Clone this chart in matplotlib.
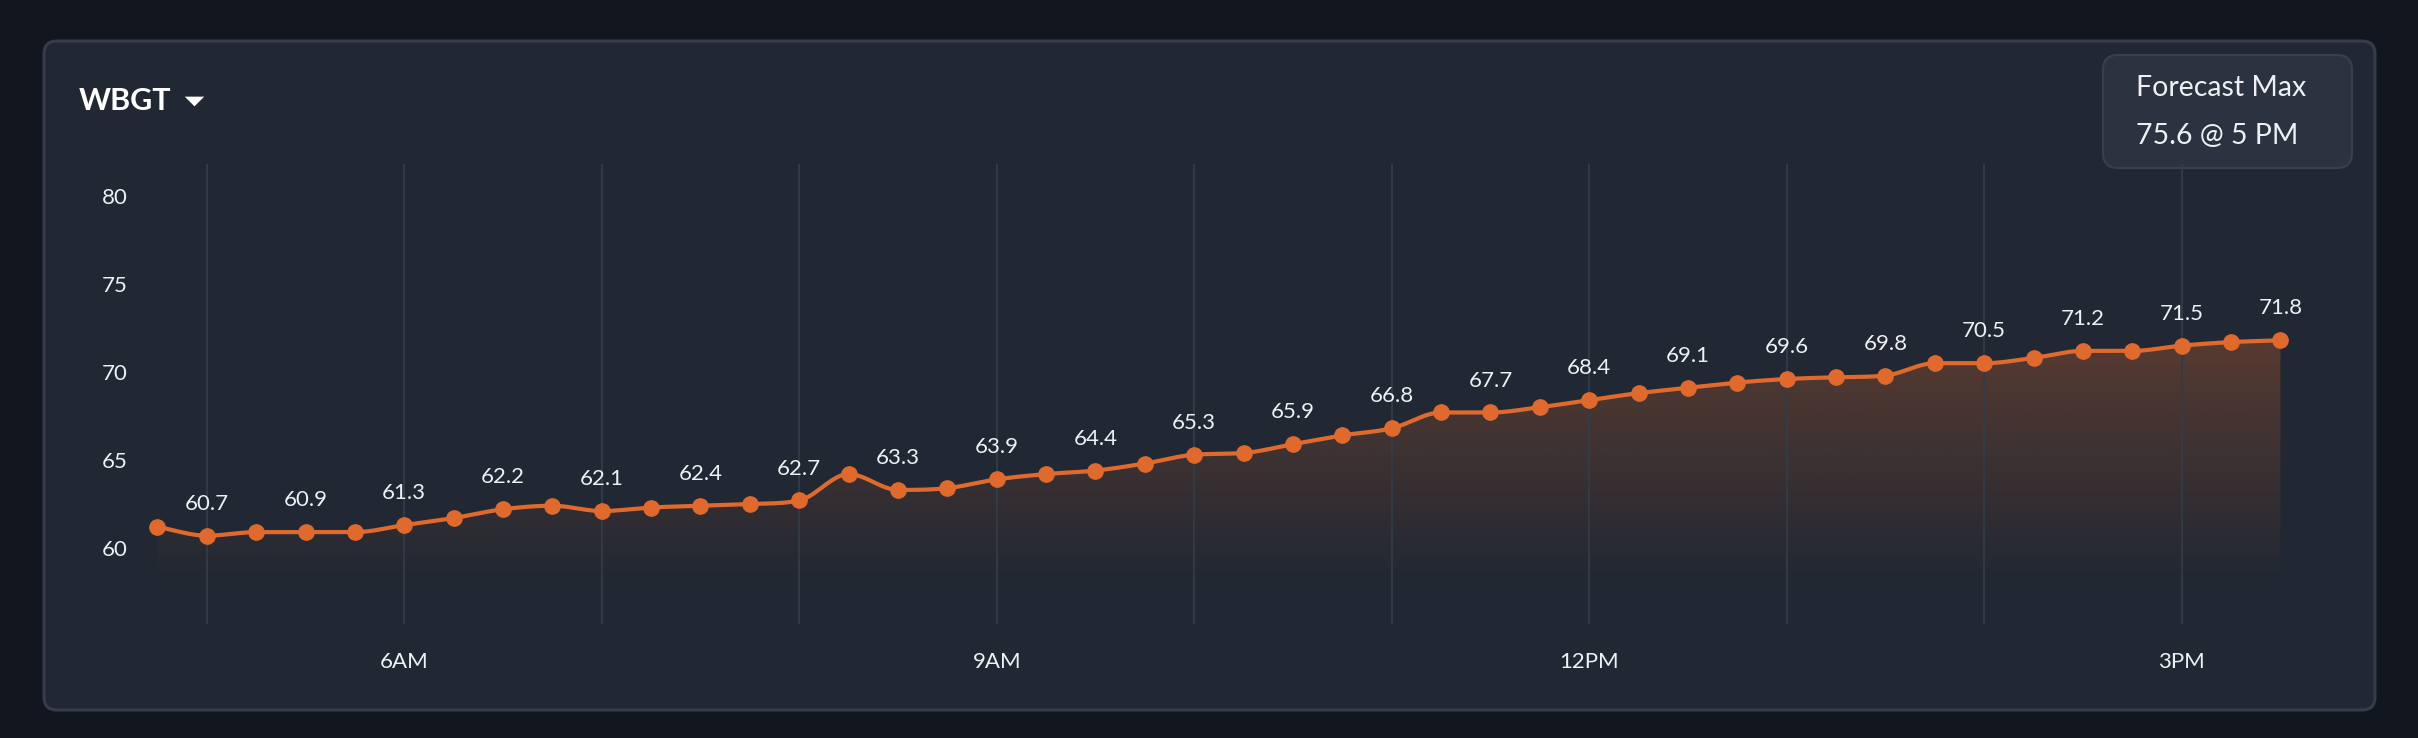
# WBGT forecast card, dark dashboard style
import numpy as np
import pandas as pd
import matplotlib
matplotlib.use("Agg")
import matplotlib.pyplot as plt
from matplotlib.patches import FancyBboxPatch

# readings every 15 min starting 4:45 AM
wbgt = [61.2, 60.7, 60.9, 60.9, 60.9, 61.3, 61.7, 62.2, 62.4, 62.1,
        62.3, 62.4, 62.5, 62.7, 64.2, 63.3, 63.4, 63.9, 64.2, 64.4,
        64.8, 65.3, 65.4, 65.9, 66.4, 66.8, 67.7, 67.7, 68.0, 68.4,
        68.8, 69.1, 69.4, 69.6, 69.7, 69.8, 70.5, 70.5, 70.8, 71.2,
        71.2, 71.5, 71.7, 71.8]
start_time = "04:45"
y_ticks = [60, 65, 70, 75, 80]
x_label_hours = [6, 9, 12, 15]
x_labels = ["6AM", "9AM", "12PM", "3PM"]
forecast_max = "75.6 @ 5 PM"

BG = "#12161e"
CARD = "#212833"
CARD_EDGE = "#343d49"
GRID = "#323c47"
ORANGE = "#e06a2d"
TEXT = "#eef0f3"
W, H = 2418, 738


def monotone_curve(x, y, n=24):
    """Monotone cubic path through the points (like chart.js 'monotone')."""
    x = np.asarray(x, float)
    y = np.asarray(y, float)
    h = np.diff(x)
    d = np.diff(y) / h
    m = np.zeros_like(y)
    m[0], m[-1] = d[0], d[-1]
    for i in range(1, len(y) - 1):
        if d[i - 1] * d[i] > 0:
            m[i] = (d[i - 1] + d[i]) / 2
    for i in range(len(d)):
        if d[i] == 0:
            m[i] = m[i + 1] = 0
            continue
        a, b = m[i] / d[i], m[i + 1] / d[i]
        s = a * a + b * b
        if s > 9:
            t = 3 / np.sqrt(s)
            m[i], m[i + 1] = t * a * d[i], t * b * d[i]
    xs, ys = [], []
    for i in range(len(h)):
        t = np.linspace(0, 1, n, endpoint=False)
        h00 = 2 * t**3 - 3 * t**2 + 1
        h10 = t**3 - 2 * t**2 + t
        h01 = -2 * t**3 + 3 * t**2
        h11 = t**3 - t**2
        xs.append(x[i] + t * h[i])
        ys.append(h00 * y[i] + h10 * h[i] * m[i] + h01 * y[i + 1] + h11 * h[i] * m[i + 1])
    xs.append([x[-1]])
    ys.append([y[-1]])
    return np.concatenate(xs), np.concatenate(ys)


times = pd.date_range("2024-01-01 " + start_time, periods=len(wbgt), freq="15min")
hours = times.hour + times.minute / 60.0
grid_hours = hours[times.minute == 0]

plt.rcParams["font.family"] = ["Lato", "DejaVu Sans"]

fig = plt.figure(figsize=(W / 100, H / 100), dpi=100, facecolor=BG)

# background layer in pixel coordinates
bg = fig.add_axes([0, 0, 1, 1], zorder=0)
bg.set_xlim(0, W)
bg.set_ylim(H, 0)
bg.axis("off")
bg.add_patch(FancyBboxPatch((44, 41), 2331, 669, boxstyle="round,pad=0,rounding_size=13",
                            facecolor=CARD, edgecolor=CARD_EDGE, linewidth=2.2))
bg.add_patch(FancyBboxPatch((2103, 55), 249, 113, boxstyle="round,pad=0,rounding_size=15",
                            facecolor="#2a333f", edgecolor="#37414e", linewidth=1.5, zorder=5))
bg.text(79, 101, "WBGT", color="white", fontsize=22, fontweight="bold", va="center", ha="left")
# dropdown caret
bg.plot([194], [101], marker=[(-1, 0.5), (1, 0.5), (0, -0.5)], color="white",
        markersize=14, markeredgewidth=0)
bg.text(2136, 88, "Forecast Max", color=TEXT, fontsize=20.5, va="center", ha="left", zorder=6)
bg.text(2136, 136, forecast_max, color=TEXT, fontsize=20.5, va="center", ha="left", zorder=6)

# chart
ax = fig.add_axes([140 / W, 1 - 624 / H, 2160 / W, 460 / H], zorder=1)
ax.set_facecolor("none")
ax.set_xlim(4.662, 15.599)
ax.set_ylim(55.68, 81.82)
for s in ax.spines.values():
    s.set_visible(False)

ax.set_xticks(list(grid_hours), minor=True)
ax.set_xticks(x_label_hours)
ax.set_xticklabels(x_labels)
ax.set_yticks(y_ticks)
ax.grid(True, which="both", axis="x", color=GRID, linewidth=1.3)
ax.tick_params(which="both", length=0)
ax.tick_params(axis="x", pad=20, labelsize=16, labelcolor=TEXT)
ax.tick_params(axis="y", pad=9, labelsize=16, labelcolor=TEXT)

cx, cy = monotone_curve(hours, wbgt)

# gradient fill under the curve
poly = ax.fill_between(cx, cy, 55.68, color="none", linewidth=0)
grad = np.zeros((200, 1, 4))
rgb = matplotlib.colors.to_rgb(ORANGE)
grad[..., 0], grad[..., 1], grad[..., 2] = rgb
grad[:, 0, 3] = np.linspace(0.3, 0.0, 200)
img = ax.imshow(grad, aspect="auto", extent=[hours[0], hours[-1], 58.0, 72.5],
                origin="upper", zorder=1)
img.set_clip_path(poly.get_paths()[0], transform=ax.transData)

ax.plot(cx, cy, color=ORANGE, linewidth=3, zorder=3, solid_capstyle="round")
ax.plot(hours, wbgt, "o", color=ORANGE, markersize=11, zorder=4)

for i in range(1, len(wbgt), 2):
    ax.annotate(f"{wbgt[i]:.1f}", (hours[i], wbgt[i]), xytext=(0, 23),
                textcoords="offset points", ha="center", va="center",
                color=TEXT, fontsize=16, zorder=5)

fig.savefig("out.png", dpi=100, facecolor=BG)
